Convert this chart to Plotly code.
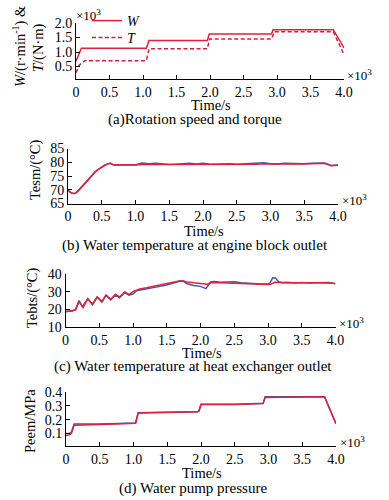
import plotly.graph_objects as go

# ---------------- data ----------------
# (a) rotation speed W (r/min) and torque T (N*m)
t_w = [0, 80, 1050, 1090, 1960, 1990, 2920, 2940, 3840, 4000]
w_vals = [680, 1130, 1130, 1400, 1400, 1620, 1620, 1770, 1770, 1140]
t_t = [0, 50, 130, 1050, 1090, 1960, 1995, 2920, 2960, 3840, 4000]
t_vals = [290, 550, 700, 700, 1110, 1110, 1450, 1450, 1700, 1700, 910]

# (b) water temperature at engine block outlet (°C)
t_b = [0, 40, 80, 110, 150, 200, 250, 300, 350, 400, 450, 500, 550, 600, 630, 660, 700,
       800, 900, 1000, 1100, 1200, 1300, 1400, 1500, 1600, 1700, 1800, 1900, 2000, 2100,
       2200, 2300, 2400, 2500, 2600, 2700, 2800, 2900, 3000, 3100, 3200, 3300, 3400, 3500,
       3600, 3700, 3800, 3900, 4000]
tesm_red = [69.8, 69.0, 68.6, 68.7, 69.6, 71.0, 72.6, 74.0, 75.3, 76.4, 77.4, 78.3, 79.0, 79.5, 79.6, 79.2, 79.0,
            79.1, 79.0, 79.0, 79.2, 79.2, 79.3, 79.2, 79.2, 79.3, 79.2, 79.3, 79.2, 79.3, 79.3,
            79.2, 79.3, 79.4, 79.3, 79.3, 79.4, 79.3, 79.5, 79.4, 79.4, 79.5, 79.4, 79.5, 79.4,
            79.5, 79.5, 79.6, 78.7, 78.9]
tesm_blue = [69.8, 69.0, 68.6, 68.7, 69.6, 71.0, 72.6, 74.0, 75.3, 76.4, 77.4, 78.3, 79.0, 79.5, 79.6, 79.2, 79.0,
             79.1, 79.0, 79.1, 79.7, 79.5, 79.6, 79.4, 79.2, 79.3, 79.4, 79.6, 79.4, 79.6, 79.3,
             79.4, 79.3, 79.5, 79.3, 79.4, 79.4, 79.5, 79.8, 79.5, 79.4, 79.6, 79.5, 79.6, 79.5,
             79.6, 79.6, 79.7, 78.8, 79.0]

# (c) water temperature at heat exchanger outlet (°C)
t_c_red = [0, 100, 150, 200, 260, 330, 400, 470, 540, 600, 670, 740, 800, 880, 940, 1000,
           1100, 1200, 1300, 1400, 1500, 1600, 1700, 1750, 1800, 1900, 2000, 2100, 2150,
           2200, 2300, 2400, 2500, 2600, 2700, 2800, 2900, 3000, 3050, 3100, 3150, 3200,
           3300, 3400, 3500, 3600, 3700, 3800, 3900, 4000]
tebts_red = [18.6, 19.0, 19.6, 24.5, 21.0, 26.0, 23.0, 27.0, 24.5, 28.0, 25.5, 28.5, 27.0, 29.8, 28.3, 30.0,
             31.5, 32.2, 33.0, 33.8, 34.5, 35.3, 36.2, 36.0, 35.5, 35.0, 34.5, 34.2, 35.0,
             35.2, 35.1, 35.0, 35.0, 34.8, 34.6, 34.4, 34.2, 34.0, 34.3, 35.3, 35.2, 35.1,
             35.0, 35.1, 35.0, 35.1, 35.0, 35.0, 34.9, 34.6]
t_c_blue = [0, 100, 150, 200, 250, 330, 400, 470, 540, 600, 670, 740, 800, 880, 940, 1000,
            1050, 1100, 1200, 1300, 1400, 1500, 1600, 1700, 1750, 1800, 1900, 2000, 2080,
            2150, 2200, 2300, 2400, 2500, 2600, 2700, 2800, 2900, 3000, 3030, 3070, 3110,
            3160, 3200, 3300, 3400, 3500, 3600, 3700, 3800, 3900, 4000]
tebts_blue = [18.8, 19.0, 20.0, 25.0, 21.5, 26.0, 22.5, 27.0, 24.0, 28.0, 25.5, 28.0, 26.5, 29.5, 28.0, 28.7,
              30.5, 30.8, 31.5, 32.2, 33.0, 33.8, 35.0, 36.0, 35.8, 34.5, 33.5, 33.0, 31.7,
              35.5, 35.8, 35.3, 35.5, 35.6, 35.0, 34.7, 34.8, 34.4, 34.3, 35.0, 37.8, 37.7,
              35.5, 35.0, 35.2, 34.9, 35.2, 34.9, 35.1, 35.0, 35.2, 34.4]

# (d) water pump pressure (MPa)
t_d = [0, 50, 80, 120, 500, 1000, 1030, 1070, 1500, 1950, 1970, 2000, 2500, 2900, 2920, 2950,
       3400, 3830, 4000]
peem_red = [0.085, 0.090, 0.100, 0.160, 0.166, 0.172, 0.175, 0.248, 0.252, 0.258, 0.262, 0.310,
            0.310, 0.312, 0.316, 0.360, 0.364, 0.366, 0.170]
peem_blue = [0.100, 0.100, 0.110, 0.168, 0.168, 0.172, 0.176, 0.250, 0.253, 0.258, 0.264, 0.312,
             0.311, 0.313, 0.318, 0.366, 0.365, 0.366, 0.172]

x_tickvals = [0, 500, 1000, 1500, 2000, 2500, 3000, 3500, 4000]
x_ticktext = ["0", "0.5", "1.0", "1.5", "2.0", "2.5", "3.0", "3.5", "4.0"]
ya_tickvals = [500, 1000, 1500, 2000]
ya_ticktext = ["0.5", "1.0", "1.5", "2.0"]

# ---------------- styling ----------------
RED = "#e0203c"
RED_T = "#d0203a"
BLUE = "#3a5ca8"
FONT = "Liberation Serif, Times New Roman, serif"
W, H = 389, 500

def px_x(p):
    return p / W

def px_y(p):
    return 1 - p / H

fig = go.Figure()

# (a)
fig.add_trace(go.Scatter(x=t_w, y=w_vals, mode="lines", name="W", legend="legend",
                         line=dict(color=RED, width=1.5), xaxis="x", yaxis="y"))
fig.add_trace(go.Scatter(x=t_t, y=t_vals, mode="lines", name="T", legend="legend2",
                         line=dict(color=RED_T, width=1.5, dash="4px,2.5px"), xaxis="x", yaxis="y"))
# (b)
fig.add_trace(go.Scatter(x=t_b, y=tesm_blue, mode="lines", showlegend=False,
                         line=dict(color=BLUE, width=1.5), xaxis="x2", yaxis="y2"))
fig.add_trace(go.Scatter(x=t_b, y=tesm_red, mode="lines", showlegend=False,
                         line=dict(color=RED, width=1.5), xaxis="x2", yaxis="y2"))
# (c)
fig.add_trace(go.Scatter(x=t_c_blue, y=tebts_blue, mode="lines", showlegend=False,
                         line=dict(color=BLUE, width=1.5), xaxis="x3", yaxis="y3"))
fig.add_trace(go.Scatter(x=t_c_red, y=tebts_red, mode="lines", showlegend=False,
                         line=dict(color=RED, width=1.5), xaxis="x3", yaxis="y3"))
# (d)
fig.add_trace(go.Scatter(x=t_d, y=peem_blue, mode="lines", showlegend=False,
                         line=dict(color=BLUE, width=1.5), xaxis="x4", yaxis="y4"))
fig.add_trace(go.Scatter(x=t_d, y=peem_red, mode="lines", showlegend=False,
                         line=dict(color=RED, width=1.5), xaxis="x4", yaxis="y4"))

axis_common = dict(showline=True, linecolor="black", linewidth=1, ticks="inside",
                   ticklen=4, tickcolor="black", tickwidth=1, showgrid=False,
                   zeroline=False, automargin=False,
                   tickfont=dict(family=FONT, size=14, color="black"))

panels = [
    # (xdomain px, ydomain px, yrange, ytickvals, yticktext)
    ((76, 344), (79, 23), [70, 2000], ya_tickvals, ya_ticktext),
    ((68, 338), (203.5, 148.5), [65, 85], [65, 70, 75, 80, 85], ["65", "70", "75", "80", "85"]),
    ((65.5, 335.5), (327, 274), [10, 40], [10, 20, 30, 40], ["10", "20", "30", "40"]),
    ((66, 336), (446, 392), [0.01, 0.4], [0.1, 0.2, 0.3, 0.4], ["0.1", "0.2", "0.3", "0.4"]),
]

layout = {}
for i, (xd, yd, yr, ytv, ytt) in enumerate(panels, start=1):
    sx = "" if i == 1 else str(i)
    layout["xaxis" + sx] = dict(axis_common, domain=[px_x(xd[0]), px_x(xd[1])],
                                range=[0, 4000], tickvals=x_tickvals, ticktext=x_ticktext,
                                anchor="y" + sx)
    layout["yaxis" + sx] = dict(axis_common, domain=[px_y(yd[0]), px_y(yd[1])],
                                range=yr, tickvals=ytv, ticktext=ytt,
                                anchor="x" + sx)

annotations = []

def text(x, y, s, size=14, angle=0, xanchor="center", italic=False):
    annotations.append(dict(x=px_x(x), y=px_y(y), xref="paper", yref="paper",
                            text=s, showarrow=False, textangle=angle,
                            xanchor=xanchor, yanchor="middle",
                            font=dict(family=FONT, size=size, color="black",
                                      style="italic" if italic else "normal")))

# x-axis titles and captions
text(211, 105, "Time/s", 14.5)
text(195, 119, "(a)Rotation speed and torque", 15)
text(204, 231, "Time/s", 14.5)
text(195, 245, "(b) Water temperature at engine block outlet", 15)
text(202, 353, "Time/s", 14.5)
text(193, 366, "(c) Water temperature at heat exchanger outlet", 15)
text(202, 473, "Time/s", 14.5)
text(193, 488, "(d) Water pump pressure", 15)

# y-axis titles
text(20, 46, "<i>W</i>/(r·min<sup>-1</sup>) &amp;", 14.5, angle=-90)
text(39, 48, "<i>T</i>/(N·m)", 14.5, angle=-90)
text(35, 170, "Tesm/(°C)", 14.5, angle=-90)
text(32, 297, "Tebts/(°C)", 14.5, angle=-90)
text(30, 421, "Peem/MPa", 14.5, angle=-90)

# scale factors
text(74, 15, "×10<sup>3</sup>", 13, xanchor="left")
text(345, 75, "×10<sup>3</sup>", 13, xanchor="left")
text(340, 200, "×10<sup>3</sup>", 13, xanchor="left")
text(337, 323, "×10<sup>3</sup>", 13, xanchor="left")
text(338, 442, "×10<sup>3</sup>", 13, xanchor="left")

legend_common = dict(xanchor="left", yanchor="top", bgcolor="rgba(0,0,0,0)",
                     tracegroupgap=0, itemwidth=30,
                     font=dict(family=FONT, size=14, color="black", style="italic"))

fig.update_layout(
    template="none",
    width=W, height=H, margin=dict(l=0, r=0, t=0, b=0, autoexpand=False),
    paper_bgcolor="white", plot_bgcolor="white",
    font=dict(family=FONT, size=14, color="black"),
    showlegend=True,
    legend=dict(legend_common, x=px_x(87), y=px_y(5)),
    legend2=dict(legend_common, x=px_x(87), y=px_y(22)),
    annotations=annotations,
    **layout,
)

fig.write_html("out.html", config={"displayModeBar": False},
               post_script="document.body.style.margin='0';")
